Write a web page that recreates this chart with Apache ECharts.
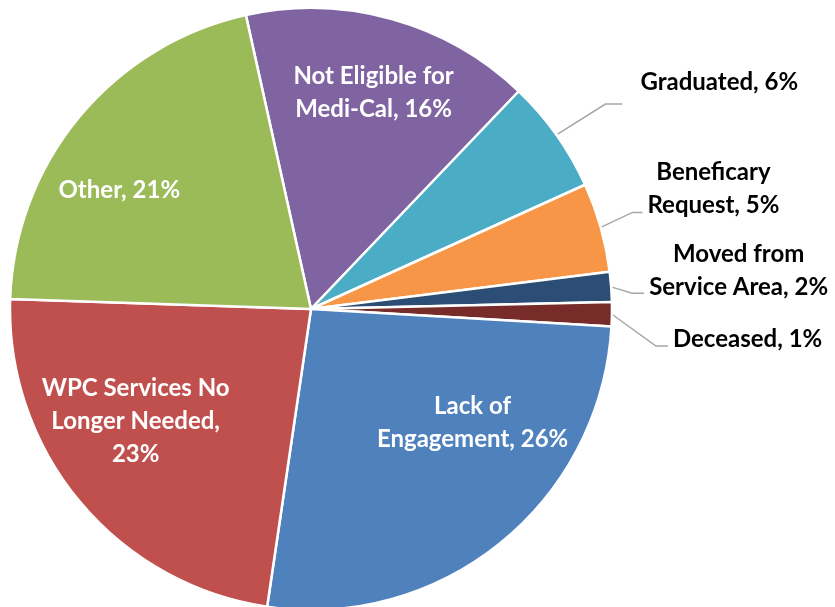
<!DOCTYPE html>
<html>
<head>
<meta charset="utf-8">
<script src="https://cdn.jsdelivr.net/npm/echarts@6/dist/echarts.min.js"></script>
<style>
html,body{margin:0;padding:0;background:#fff;}
#chart{width:835px;height:607px;}
</style>
</head>
<body>
<div id="chart"></div>
<script>
// slices in drawing order, clockwise
const categories = ['Not Eligible for Medi-Cal', 'Graduated', 'Beneficary Request', 'Moved from Service Area',
    'Deceased', 'Lack of Engagement', 'WPC Services No Longer Needed', 'Other'];
const shares = [15.6, 6.1, 4.8, 1.6, 1.3, 26.4, 23.2, 21.0];
// how each label wraps, {p} = rounded percent
const labelText = ['Not Eligible for\nMedi-Cal, {p}', 'Graduated, {p}', 'Beneficary\nRequest, {p}',
    'Moved from\nService Area, {p}', 'Deceased, {p}', 'Lack of\nEngagement, {p}',
    'WPC Services No\nLonger Needed,\n{p}', 'Other, {p}'];
const sliceColors = ['#8064A2', '#4BACC6', '#F79646', '#2C4D75', '#772C2A', '#4F81BD', '#C0504D', '#9BBB59'];

// leader line / label tweaks for the small slices
const callout = {
    'Graduated': {len: 60, len2: 17, pad: [0, 0, 36, 13], bend: 4},
    'Beneficary Request': {len: 33, len2: 10, pad: [0, 0, 60, 0], bend: -6},
    'Moved from Service Area': {len: 21, len2: 12, pad: [0, 0, 30, 0], bend: 8},
    'Deceased': {len: 44, len2: 12, pad: [48, 0, 0, 0], bend: 31}
};
// small shifts for the labels drawn inside the big slices
const nudge = {
    'Not Eligible for Medi-Cal': [4, -6],
    'Lack of Engagement': [24, -55],
    'WPC Services No Longer Needed': [-8, -27],
    'Other': [-24, 21]
};

const FONT = {fontFamily: 'Lato', fontSize: 24, fontWeight: 'bold', lineHeight: 33, align: 'center'};

function richText(i, key) {
    const txt = labelText[i].replace('{p}', Math.round(shares[i]) + '%');
    return txt.split('\n').map(l => '{' + key + '|' + l + '}').join('\n');
}

const chart = echarts.init(document.getElementById('chart'));

chart.setOption({
    animation: false,
    textStyle: {fontFamily: 'Lato'},
    series: [
        {
            type: 'pie',
            center: [311, 309],
            radius: 301,
            startAngle: 102.5,
            avoidLabelOverlap: false,
            emphasis: {disabled: true},
            itemStyle: {borderColor: '#fff', borderWidth: 2.5},
            label: {
                position: 'outside',
                distanceToLabelLine: 5,
                formatter: p => richText(p.dataIndex, 'k'),
                rich: {k: Object.assign({color: '#000'}, FONT)}
            },
            labelLine: {lineStyle: {color: '#a6a6a6', width: 1.5}},
            labelLayout: function (p) {
                const c = callout[categories[p.dataIndex]];
                if (!c || !p.labelLinePoints) return {};
                const pts = p.labelLinePoints;
                pts[1][1] += c.bend;
                pts[2][1] += c.bend;
                return {labelLinePoints: pts};
            },
            data: categories.map((name, i) => {
                const c = callout[name];
                return {
                    name: name,
                    value: shares[i],
                    itemStyle: {color: sliceColors[i]},
                    label: c ? {show: true, padding: c.pad} : {show: false},
                    labelLine: c ? {show: true, length: c.len, length2: c.len2} : {show: false}
                };
            })
        },
        {
            // transparent copy, only carries the inside labels further out
            type: 'pie',
            center: [311, 309],
            radius: [129, 301],
            startAngle: 102.5,
            silent: true,
            avoidLabelOverlap: false,
            itemStyle: {color: 'rgba(0,0,0,0)', borderWidth: 0},
            label: {
                position: 'inside',
                formatter: p => richText(p.dataIndex, 'w'),
                rich: {w: Object.assign({color: '#fff'}, FONT)}
            },
            labelLine: {show: false},
            labelLayout: function (p) {
                const n = nudge[categories[p.dataIndex]];
                if (!n) return {};
                const r = p.labelRect;
                return {
                    x: r.x + r.width / 2 + n[0],
                    y: r.y + r.height / 2 + n[1],
                    align: 'center',
                    verticalAlign: 'middle'
                };
            },
            data: categories.map((name, i) => ({
                name: name,
                value: shares[i],
                label: {show: shares[i] >= 10}
            }))
        }
    ]
});
</script>
</body>
</html>
